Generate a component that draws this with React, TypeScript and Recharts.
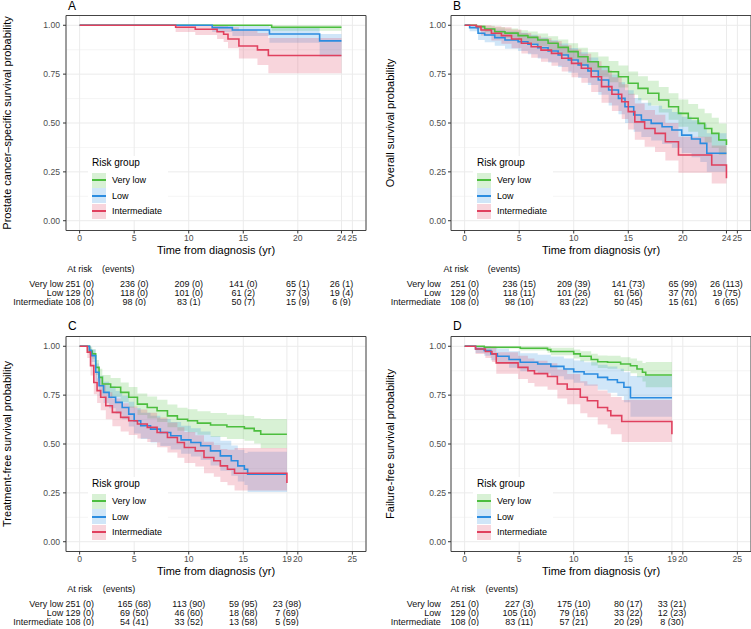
import React from 'react';
import {
  ComposedChart, Area, Line, XAxis, YAxis, CartesianGrid, ReferenceArea,
  ScatterChart, Scatter,
} from 'recharts';

const GROUPS = ['Very low', 'Low', 'Intermediate'];
const COLORS = ['#4cbe3e', '#2b8ce0', '#e0405e'];

const X_TICKS_AB = [0, 5, 10, 15, 20, 24, 25];
const X_TICKS_CD = [0, 5, 10, 15, 19, 20, 25];
const Y_TICKS = [0, 0.25, 0.5, 0.75, 1];
const Y_MINOR = [0.125, 0.375, 0.625, 0.875];
const X_DOMAIN = [-1.25, 26.25];
const Y_DOMAIN = [-0.05, 1.05];

// rows: [time, survival, lower CI, upper CI]
const aVeryLow = [[0, 1, 1, 1], [17.6, 0.99, 0.972, 1], [24.0, 0.99, 0.972, 1]];
const aLow = [
  [0, 1, 1, 1], [12.15, 0.988, 0.965, 1], [14.0, 0.976, 0.945, 1], [17.4, 0.955, 0.91, 0.99],
  [22.0, 0.92, 0.84, 0.955], [24.0, 0.92, 0.84, 0.955],
];
const aInter = [
  [0, 1, 1, 1], [8.8, 0.99, 0.965, 1], [10.6, 0.98, 0.95, 1], [12.6, 0.967, 0.93, 1],
  [13.2, 0.954, 0.915, 0.995], [13.6, 0.93, 0.882, 0.99], [14.6, 0.894, 0.83, 0.975],
  [16.3, 0.874, 0.797, 0.96], [17.3, 0.845, 0.754, 0.935], [24.0, 0.845, 0.754, 0.935],
];

const bVeryLow = [
  [0, 1, 1, 1], [1.07, 0.993, 0.983, 1], [1.84, 0.981, 0.965, 0.997], [2.76, 0.967, 0.945, 0.99],
  [3.7, 0.96, 0.936, 0.984], [4.9, 0.947, 0.92, 0.974], [5.8, 0.938, 0.908, 0.968],
  [6.7, 0.925, 0.893, 0.958], [7.65, 0.908, 0.872, 0.944], [8.57, 0.887, 0.848, 0.927],
  [9.5, 0.865, 0.823, 0.908], [10.4, 0.839, 0.794, 0.885], [11.3, 0.813, 0.765, 0.862],
  [12.25, 0.788, 0.737, 0.84], [13.2, 0.762, 0.708, 0.817], [14.1, 0.737, 0.681, 0.794],
  [15.0, 0.703, 0.645, 0.763], [15.9, 0.677, 0.617, 0.739], [16.8, 0.652, 0.59, 0.716],
  [17.8, 0.618, 0.554, 0.684], [18.7, 0.583, 0.517, 0.652], [19.6, 0.549, 0.481, 0.62],
  [20.5, 0.524, 0.455, 0.597], [21.4, 0.498, 0.427, 0.573], [22.0, 0.472, 0.4, 0.55],
  [22.65, 0.447, 0.373, 0.527], [23.3, 0.413, 0.336, 0.497], [24.0, 0.387, 0.305, 0.475],
];
const bLow = [
  [0, 1, 1, 1], [0.46, 0.988, 0.97, 1], [1.23, 0.959, 0.925, 0.99], [1.84, 0.95, 0.913, 0.985],
  [2.76, 0.937, 0.895, 0.977], [3.7, 0.925, 0.88, 0.968], [4.9, 0.916, 0.868, 0.962],
  [5.8, 0.903, 0.852, 0.952], [6.7, 0.885, 0.83, 0.938], [7.65, 0.868, 0.81, 0.924],
  [8.57, 0.848, 0.787, 0.907], [9.5, 0.822, 0.757, 0.884], [10.4, 0.797, 0.73, 0.862],
  [11.3, 0.766, 0.695, 0.835], [12.25, 0.72, 0.645, 0.793], [13.2, 0.669, 0.59, 0.747],
  [14.1, 0.626, 0.545, 0.708], [14.7, 0.583, 0.5, 0.668], [15.5, 0.541, 0.455, 0.628],
  [16.2, 0.515, 0.428, 0.604], [17.1, 0.498, 0.41, 0.588], [18.1, 0.481, 0.392, 0.572],
  [19.0, 0.464, 0.374, 0.556], [19.9, 0.438, 0.347, 0.532], [20.8, 0.418, 0.325, 0.514],
  [21.6, 0.396, 0.3, 0.494], [22.2, 0.345, 0.25, 0.447], [24.0, 0.345, 0.25, 0.447],
];
const bInter = [
  [0, 1, 1, 1], [1.07, 0.993, 0.98, 1], [1.5, 0.976, 0.948, 1], [2.45, 0.959, 0.922, 0.995],
  [3.37, 0.947, 0.905, 0.99], [4.3, 0.93, 0.883, 0.978], [5.2, 0.908, 0.856, 0.96],
  [6.1, 0.89, 0.834, 0.946], [7.0, 0.873, 0.813, 0.933], [7.96, 0.856, 0.793, 0.919],
  [8.9, 0.831, 0.764, 0.898], [9.8, 0.805, 0.734, 0.876], [10.7, 0.78, 0.706, 0.854],
  [11.6, 0.737, 0.658, 0.816], [12.55, 0.686, 0.603, 0.77], [13.5, 0.647, 0.562, 0.734],
  [14.4, 0.609, 0.52, 0.698], [15.0, 0.558, 0.467, 0.65], [15.6, 0.506, 0.414, 0.6],
  [16.5, 0.472, 0.378, 0.566], [17.45, 0.447, 0.352, 0.542], [18.4, 0.404, 0.308, 0.5],
  [19.6, 0.336, 0.245, 0.43], [22.65, 0.285, 0.19, 0.385], [24.0, 0.217, 0.12, 0.33],
];

const cVeryLow = [
  [0, 1, 1, 1], [0.9, 0.975, 0.955, 0.995], [1.16, 0.961, 0.936, 0.985], [1.47, 0.892, 0.853, 0.93],
  [1.78, 0.841, 0.797, 0.885], [2.08, 0.807, 0.76, 0.853], [2.84, 0.79, 0.741, 0.838],
  [3.76, 0.764, 0.713, 0.815], [4.5, 0.739, 0.686, 0.792], [5.3, 0.704, 0.649, 0.759],
  [6.2, 0.687, 0.631, 0.743], [7.1, 0.67, 0.613, 0.727], [8.05, 0.644, 0.586, 0.702],
  [8.96, 0.627, 0.568, 0.686], [9.9, 0.619, 0.56, 0.678], [10.8, 0.607, 0.547, 0.667],
  [12.0, 0.597, 0.536, 0.658], [13.5, 0.588, 0.526, 0.65], [15.1, 0.58, 0.517, 0.643],
  [16.0, 0.567, 0.502, 0.632], [16.6, 0.55, 0.478, 0.628], [19.0, 0.55, 0.478, 0.628],
];
const cLow = [
  [0, 1, 1, 1], [0.9, 0.98, 0.96, 1], [1.08, 0.952, 0.92, 0.984], [1.47, 0.867, 0.822, 0.912],
  [1.78, 0.798, 0.747, 0.849], [2.2, 0.764, 0.71, 0.818], [2.7, 0.739, 0.683, 0.795],
  [3.3, 0.713, 0.655, 0.771], [3.9, 0.687, 0.627, 0.747], [4.5, 0.653, 0.59, 0.716],
  [5.0, 0.619, 0.554, 0.684], [5.6, 0.593, 0.526, 0.66], [6.5, 0.576, 0.508, 0.644],
  [7.4, 0.559, 0.49, 0.628], [8.35, 0.542, 0.472, 0.612], [9.3, 0.521, 0.45, 0.593],
  [10.2, 0.508, 0.436, 0.58], [11.1, 0.491, 0.418, 0.564], [12.0, 0.465, 0.39, 0.54],
  [12.9, 0.439, 0.363, 0.516], [13.9, 0.414, 0.337, 0.492], [14.5, 0.388, 0.308, 0.469],
  [15.1, 0.371, 0.29, 0.454], [15.4, 0.345, 0.255, 0.46], [19.0, 0.345, 0.255, 0.46],
];
const cInter = [
  [0, 1, 1, 1], [0.7, 0.97, 0.94, 1], [1.0, 0.901, 0.85, 0.952], [1.3, 0.815, 0.755, 0.875],
  [1.6, 0.773, 0.71, 0.836], [1.93, 0.739, 0.673, 0.805], [2.4, 0.696, 0.627, 0.765],
  [3.0, 0.662, 0.591, 0.733], [3.76, 0.636, 0.564, 0.708], [4.5, 0.619, 0.546, 0.692],
  [5.3, 0.602, 0.528, 0.676], [6.2, 0.585, 0.51, 0.66], [7.1, 0.559, 0.483, 0.635],
  [8.05, 0.533, 0.456, 0.61], [8.96, 0.508, 0.43, 0.586], [9.6, 0.482, 0.403, 0.561],
  [10.6, 0.465, 0.385, 0.545], [11.4, 0.431, 0.35, 0.512], [12.3, 0.414, 0.333, 0.495],
  [12.9, 0.388, 0.306, 0.475], [13.55, 0.371, 0.289, 0.47], [14.2, 0.35, 0.262, 0.48],
  [19.0, 0.3, 0.2, 0.44],
];

const dVeryLow = [
  [0, 1, 1, 1], [1.8, 0.995, 0.988, 1], [5.1, 0.99, 0.978, 1], [7.6, 0.983, 0.967, 0.998],
  [7.9, 0.973, 0.954, 0.992], [10.0, 0.961, 0.938, 0.984], [10.6, 0.949, 0.923, 0.975],
  [11.6, 0.932, 0.902, 0.962], [12.2, 0.921, 0.889, 0.953], [13.1, 0.918, 0.885, 0.951],
  [14.3, 0.909, 0.874, 0.944], [15.2, 0.9, 0.862, 0.938], [15.8, 0.884, 0.842, 0.926],
  [16.3, 0.867, 0.82, 0.914], [16.6, 0.853, 0.79, 0.92], [19.0, 0.853, 0.79, 0.92],
];
const dLow = [
  [0, 1, 1, 1], [1.0, 0.986, 0.965, 1], [1.8, 0.978, 0.952, 1], [2.4, 0.961, 0.928, 0.994],
  [3.0, 0.949, 0.912, 0.987], [4.07, 0.932, 0.89, 0.974], [5.1, 0.918, 0.872, 0.964],
  [6.7, 0.909, 0.861, 0.957], [7.9, 0.897, 0.846, 0.948], [9.1, 0.884, 0.83, 0.938],
  [10.0, 0.87, 0.813, 0.927], [10.95, 0.858, 0.798, 0.918], [12.2, 0.841, 0.777, 0.905],
  [13.1, 0.829, 0.762, 0.896], [14.0, 0.815, 0.745, 0.885], [14.6, 0.79, 0.713, 0.867],
  [15.2, 0.737, 0.64, 0.848], [19.0, 0.737, 0.64, 0.848],
];
const dInter = [
  [0, 1, 1, 1], [1.0, 0.986, 0.96, 1], [1.9, 0.973, 0.94, 1], [2.5, 0.961, 0.92, 1],
  [2.9, 0.915, 0.86, 0.97], [4.9, 0.892, 0.832, 0.952], [5.8, 0.875, 0.812, 0.938],
  [6.4, 0.86, 0.794, 0.926], [7.6, 0.845, 0.777, 0.913], [8.5, 0.807, 0.733, 0.881],
  [9.4, 0.781, 0.704, 0.858], [10.6, 0.739, 0.657, 0.821], [11.25, 0.721, 0.637, 0.805],
  [12.2, 0.687, 0.6, 0.774], [13.1, 0.67, 0.58, 0.76], [13.4, 0.645, 0.55, 0.74],
  [14.4, 0.615, 0.51, 0.725], [19.0, 0.55, 0.405, 0.7],
];

// risk tables
const RISK_TIMES_AB = [0, 5, 10, 15, 20, 24];
const RISK_TIMES_CD = [0, 5, 10, 15, 19];
const aAtRisk = [[251, 236, 209, 141, 65, 26], [129, 118, 101, 61, 37, 19], [108, 98, 83, 50, 15, 6]];
const aEvents = [[0, 0, 0, 0, 1, 1], [0, 0, 0, 2, 3, 4], [0, 0, 1, 7, 9, 9]];
const bAtRisk = [[251, 236, 209, 141, 65, 26], [129, 118, 101, 61, 37, 19], [108, 98, 83, 50, 15, 6]];
const bEvents = [[0, 15, 39, 73, 99, 113], [0, 11, 26, 56, 70, 75], [0, 10, 22, 45, 61, 65]];
const cAtRisk = [[251, 165, 113, 59, 23], [129, 69, 46, 18, 7], [108, 54, 33, 13, 5]];
const cEvents = [[0, 68, 90, 95, 98], [0, 50, 60, 68, 69], [0, 41, 52, 58, 59]];
const dAtRisk = [[251, 227, 175, 80, 33], [129, 105, 79, 33, 12], [108, 83, 57, 20, 8]];
const dEvents = [[0, 3, 10, 17, 21], [0, 10, 16, 22, 23], [0, 11, 21, 29, 30]];

const ROW_POS = [1.63, 2.63, 3.63];

const toPoints = (rows) => rows.map(([t, s, lo, hi]) => ({ t, s, band: [lo, hi] }));

const PLOT_W = 300;
const CHART_H = 260;

function Legend({ left, top }) {
  return (
    <div style={{ position: 'absolute', left, top, background: '#fff', padding: '0 6px 1px 4px' }}>
      <div style={{ fontSize: 10, height: 14, lineHeight: '14px', marginBottom: 2.5 }}>Risk group</div>
      {GROUPS.map((g, i) => (
        <div key={g} style={{ display: 'flex', alignItems: 'center', height: 15.5 }}>
          <div style={{ width: 14, height: 15, position: 'relative', background: COLORS[i] + '38' }}>
            <div style={{ position: 'absolute', left: 0, right: 0, top: 6.7, height: 1.6, background: COLORS[i] }} />
          </div>
          <span style={{ fontSize: 9, marginLeft: 6 }}>{g}</span>
        </div>
      ))}
    </div>
  );
}

function Panel({ left, top, width, axisW, letter, yTitle, titleOffset, curves, xTicks, tickGap }) {
  const plotTop = 15.5;
  return (
    <>
      <div style={{ position: 'absolute', left, top }}>
        <ComposedChart
          width={width}
          height={CHART_H}
          margin={{ top: plotTop, right: width - axisW - PLOT_W, bottom: 0, left: 0 }}
        >
          <CartesianGrid horizontalValues={Y_MINOR} vertical={false} stroke="#f3f3f3" strokeWidth={0.8} />
          <CartesianGrid stroke="#ebebeb" strokeWidth={1} />
          <XAxis
            type="number"
            dataKey="t"
            domain={X_DOMAIN}
            ticks={xTicks}
            interval={0}
            allowDataOverflow
            height={CHART_H - plotTop - 215}
            axisLine={false}
            tickSize={3}
            tickMargin={1}
            tickLine={{ stroke: '#333' }}
            tick={{ fontSize: 8.6, fill: '#4d4d4d' }}
            label={{ value: 'Time from diagnosis (yr)', position: 'insideBottom', offset: 6, fontSize: 11, fill: '#000' }}
          />
          <YAxis
            type="number"
            domain={Y_DOMAIN}
            ticks={Y_TICKS}
            interval={0}
            allowDataOverflow
            width={axisW}
            axisLine={false}
            tickSize={3}
            tickMargin={tickGap}
            tickLine={{ stroke: '#333' }}
            tick={{ fontSize: 8.6, fill: '#4d4d4d' }}
            tickFormatter={(v) => v.toFixed(2)}
            label={{
              value: yTitle, angle: -90, position: 'insideLeft', offset: titleOffset,
              fontSize: 11, fill: '#000', style: { textAnchor: 'middle' },
            }}
          />
          {curves.map((c, i) => (
            <Area
              key={'band' + i}
              data={toPoints(c)}
              dataKey="band"
              type="stepAfter"
              stroke="none"
              fill={COLORS[i]}
              fillOpacity={0.22}
              activeDot={false}
              isAnimationActive={false}
            />
          ))}
          {curves.map((c, i) => (
            <Line
              key={'line' + i}
              data={toPoints(c)}
              dataKey="s"
              type="stepAfter"
              stroke={COLORS[i]}
              strokeWidth={1.6}
              dot={false}
              activeDot={false}
              isAnimationActive={false}
            />
          ))}
          <ReferenceArea
            x1={X_DOMAIN[0]} x2={X_DOMAIN[1]} y1={Y_DOMAIN[0]} y2={Y_DOMAIN[1]}
            fill="none" fillOpacity={0} stroke="#444" strokeWidth={1} ifOverflow="visible"
          />
        </ComposedChart>
      </div>
      <div style={{ position: 'absolute', left: left + axisW + 2, top: top === 0 ? 0 : top - 1.5, fontSize: 12, lineHeight: '12px' }}>
        {letter}
      </div>
      <Legend left={left + axisW + 22} top={top + plotTop + 140.5} />
    </>
  );
}

const CellText = (props) => {
  const { cx, cy, payload } = props;
  return (
    <text x={cx} y={cy} textAnchor="middle" dominantBaseline="central" fontSize={9} fill="#111">
      {payload.label}
    </text>
  );
};

function RiskTable({ left, top, width, axisW, labelGap, times, atRisk, events, header }) {
  const headerData = [
    { t: header[0], y: 0, label: 'At risk' },
    { t: header[1], y: 0, label: '(events)' },
  ];
  return (
    <div style={{ position: 'absolute', left, top }}>
      <ScatterChart width={width} height={42.3} margin={{ top: 0, right: width - axisW - PLOT_W, bottom: 0, left: 0 }}>
        <XAxis type="number" dataKey="t" domain={X_DOMAIN} hide />
        <YAxis
          type="number"
          dataKey="y"
          domain={[-0.5, 4.1]}
          reversed
          ticks={ROW_POS}
          interval={0}
          width={axisW}
          axisLine={false}
          tickLine={false}
          tickSize={0}
          tickMargin={labelGap}
          tick={{ fontSize: 9, fill: '#111' }}
          tickFormatter={(v) => GROUPS[ROW_POS.indexOf(v)]}
        />
        <Scatter data={headerData} shape={CellText} isAnimationActive={false} />
        {GROUPS.map((g, r) => (
          <Scatter
            key={g}
            data={times.map((t, i) => ({ t, y: ROW_POS[r], label: `${atRisk[r][i]} (${events[r][i]})` }))}
            shape={CellText}
            isAnimationActive={false}
          />
        ))}
      </ScatterChart>
    </div>
  );
}

export default function App() {
  return (
    <div
      style={{
        position: 'absolute', left: 0, top: 0, width: 751, height: 629, background: '#fff',
        fontFamily: '"Liberation Sans", Arial, Helvetica, sans-serif', color: '#000', overflow: 'hidden',
      }}
    >
      <Panel left={0} top={0} width={375} axisW={66} letter="A" titleOffset={7} tickGap={3}
        yTitle="Prostate cancer–specific survival probability" curves={[aVeryLow, aLow, aInter]} xTicks={X_TICKS_AB} />
      <Panel left={375} top={0} width={376} axisW={76} letter="B" titleOffset={15} tickGap={2}
        yTitle="Overall survival probability" curves={[bVeryLow, bLow, bInter]} xTicks={X_TICKS_AB} />
      <Panel left={0} top={321} width={375} axisW={66} letter="C" titleOffset={7} tickGap={3}
        yTitle="Treatment-free survival probability" curves={[cVeryLow, cLow, cInter]} xTicks={X_TICKS_CD} />
      <Panel left={375} top={321} width={376} axisW={76} letter="D" titleOffset={15} tickGap={2}
        yTitle="Failure-free survival probability" curves={[dVeryLow, dLow, dInter]} xTicks={X_TICKS_CD} />

      <RiskTable left={0} top={264} width={375} axisW={66} labelGap={2.7} times={RISK_TIMES_AB}
        atRisk={aAtRisk} events={aEvents} header={[0, 3.55]} />
      <RiskTable left={375} top={264} width={376} axisW={76} labelGap={10.3} times={RISK_TIMES_AB}
        atRisk={bAtRisk} events={bEvents} header={[-0.79, 3.6]} />
      <RiskTable left={0} top={584} width={375} axisW={66} labelGap={2.7} times={RISK_TIMES_CD}
        atRisk={cAtRisk} events={cEvents} header={[0, 3.6]} />
      <RiskTable left={375} top={584} width={376} axisW={76} labelGap={10.3} times={RISK_TIMES_CD}
        atRisk={dAtRisk} events={dEvents} header={[-0.16, 3.4]} />
    </div>
  );
}
